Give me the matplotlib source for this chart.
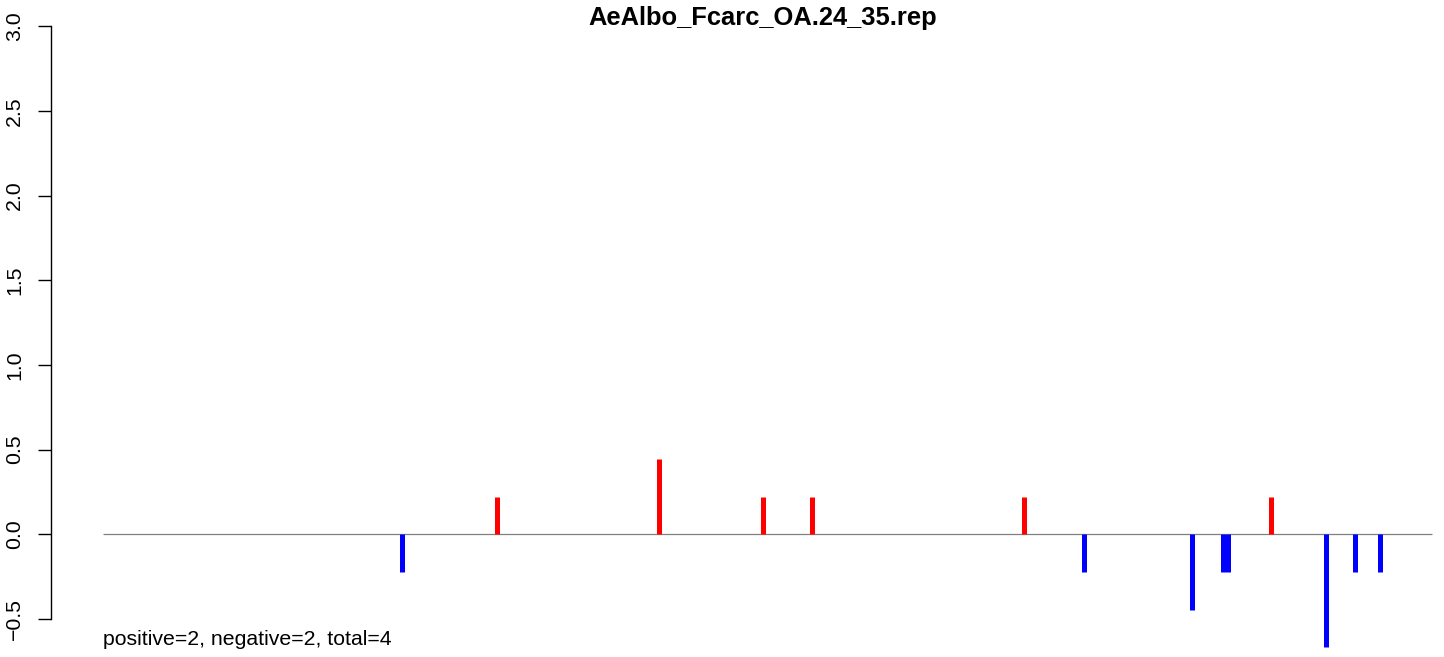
import numpy as np
import matplotlib.pyplot as plt

plt.rcParams['font.family'] = ['Liberation Sans', 'DejaVu Sans']

# positions along the sequence (arbitrary units) and scores
seq_start, seq_end = 0, 1329
pos_up = [394, 556, 660, 709, 921, 1168]
val_up = [0.222, 0.444, 0.222, 0.222, 0.222, 0.222]
pos_down = [299, 981, 1089, 1119.5, 1124.5, 1223, 1252, 1277]
val_down = [-0.222, -0.222, -0.444, -0.222, -0.222, -0.666, -0.222, -0.222]
yticks = [-0.5, 0.0, 0.5, 1.0, 1.5, 2.0, 2.5, 3.0]
title = "AeAlbo_Fcarc_OA.24_35.rep"
summary = "positive=2, negative=2, total=4"

W, H = 1444, 657
fig = plt.figure(figsize=(W / 100, H / 100), dpi=100)
ax = fig.add_axes([51 / W, 0, (W - 51) / W, 1])

ax.hlines(0, seq_start, seq_end, color='#808080', lw=0.9)
ax.vlines(pos_up, 0, val_up, color='red', lw=3.6, capstyle='butt')
ax.vlines(pos_down, 0, val_down, color='blue', lw=3.6, capstyle='butt')

ax.set_xlim(-52, 1341)
ax.set_ylim(-0.724, 3.154)

for s in ['top', 'right', 'bottom']:
    ax.spines[s].set_visible(False)
ax.spines['left'].set_bounds(-0.5, 3.0)
ax.spines['left'].set_linewidth(1.0)
ax.set_xticks([])
ax.set_yticks(yticks)
ax.set_yticklabels([f"{t:.1f}".replace('-', '\u2212') for t in yticks],
                   rotation=90, va='center', fontsize=15.3)
ax.tick_params(axis='y', length=9.4, width=1.0, pad=10)

fig.text(762.5 / W, 1 - 6 / H, title, ha='center', va='top',
         fontsize=18.4, fontweight='bold')
ax.text(seq_start, -0.62, summary, ha='left', va='center', fontsize=15.3)

fig.savefig("out.png", dpi=100)
